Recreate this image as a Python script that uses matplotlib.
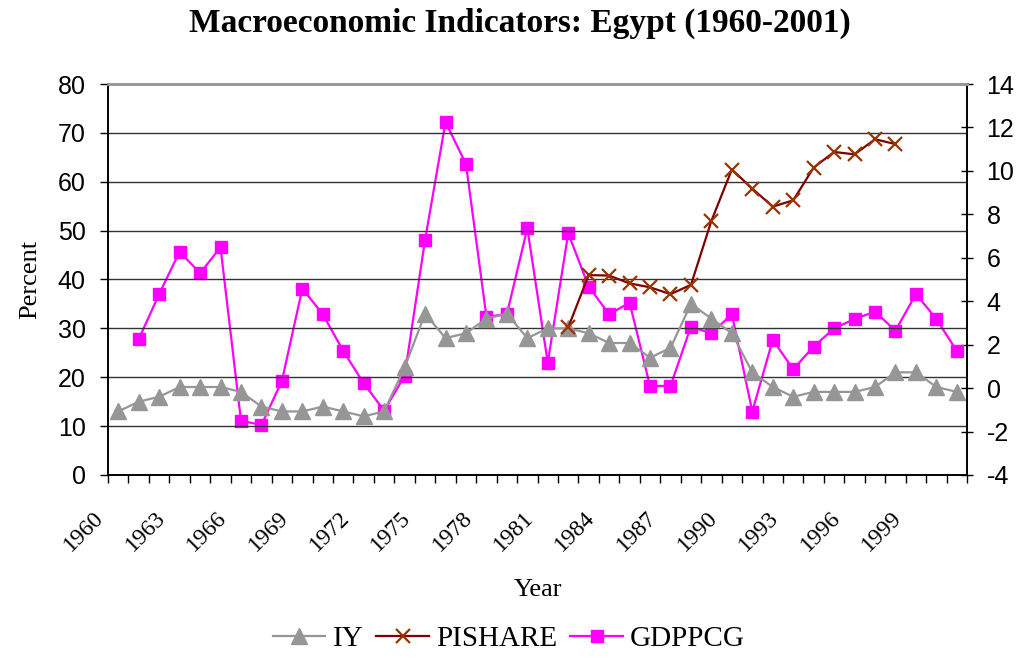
import matplotlib
matplotlib.use('Agg')
import matplotlib.pyplot as plt
import matplotlib.transforms as mtransforms
import numpy as np

SERIF = 'Liberation Serif'
SANS = 'Liberation Sans'
plt.rcParams['axes.unicode_minus'] = False

years = list(range(1960, 2002))

# investment / GDP (left axis)
iy = [13, 15, 16, 18, 18, 18, 17, 14, 13, 13, 14, 13, 12, 13,
      22, 33, 28, 29, 32, 33, 28, 30, 30, 29, 27, 27, 24, 26,
      35, 32, 29, 21, 18, 16, 17, 17, 17, 18, 21, 21, 18, 17]

# private investment share (left axis), 1982-1998
pishare_years = list(range(1982, 1999))
pishare = [30.2, 40.9, 40.8, 39.2, 38.4, 37.0, 38.9, 52.0, 62.5,
           58.6, 54.9, 56.2, 62.9, 66.1, 65.6, 68.7, 67.7]

# GDP per capita growth (right axis), 1961-2001
gdppcg_years = list(range(1961, 2002))
gdppcg = [2.25, 4.33, 6.28, 5.29, 6.48, -1.5, -1.7, 0.33, 4.58, 3.4,
          1.71, 0.22, -1.04, 0.56, 6.82, 12.24, 10.32, 3.29, 3.4, 7.36,
          1.17, 7.13, 4.67, 3.4, 3.93, 0.1, 0.1, 2.83, 2.52, 3.4,
          -1.08, 2.22, 0.87, 1.91, 2.75, 3.18, 3.52, 2.64, 4.33, 3.18, 1.71]

label_years = list(range(1960, 2000, 3))

COLOUR_IY = '#969696'
COLOUR_PI_LINE = '#800000'
COLOUR_PI_MARK = '#993300'
COLOUR_GDP = '#FF00FF'

fig = plt.figure(figsize=(10.24, 6.63), dpi=100)
ax = fig.add_axes([0.1055, 0.2836, 0.8389, 0.5897])
ax2 = ax.twinx()

idx = {y: i for i, y in enumerate(years)}
x_iy = [idx[y] for y in years]
x_pi = [idx[y] for y in pishare_years]
x_gdp = [idx[y] for y in gdppcg_years]

l1, = ax.plot(x_iy, iy, color=COLOUR_IY, lw=1.6, marker='^', ms=11,
              mfc=COLOUR_IY, mec=COLOUR_IY, label='IY', zorder=3)
l2, = ax.plot(x_pi, pishare, color=COLOUR_PI_LINE, lw=1.6, marker='x', ms=10,
              mew=1.6, mec=COLOUR_PI_MARK, label='PISHARE', zorder=4)
l3, = ax2.plot(x_gdp, gdppcg, color=COLOUR_GDP, lw=1.6, marker='s', ms=9,
               mfc=COLOUR_GDP, mec=COLOUR_GDP, label='GDPPCG', zorder=5)

ax.set_zorder(ax2.get_zorder() + 1)
ax.patch.set_visible(False)

ax.set_xlim(-0.5, len(years) - 0.5)
ax.set_ylim(0, 80)
ax2.set_ylim(-4, 14)

ax.set_yticks(range(0, 81, 10))
ax2.set_yticks(range(-4, 15, 2))
ax.grid(axis='y', color='#333333', lw=1.0)
for lab in ax.get_yticklabels() + ax2.get_yticklabels():
    lab.set_fontfamily(SANS)
    lab.set_fontsize(18)
ax.tick_params(axis='y', direction='out', length=6, width=1, pad=10)
ax2.tick_params(axis='y', direction='inout', length=8, width=1, pad=10)

# category ticks between years, labels every third year
ax.set_xticks(np.arange(-0.5, len(years), 1), minor=True)
ax.set_xticks([idx[y] for y in label_years])
ax.set_xticklabels([str(y) for y in label_years], rotation=45, ha='right',
                   fontfamily=SERIF, fontsize=17)
ax.tick_params(axis='x', which='major', length=0, pad=23)
ax.tick_params(axis='x', which='minor', direction='out', length=6, width=1)
offset = mtransforms.ScaledTranslation(-10 / 100, 0, fig.dpi_scale_trans)
for lab in ax.get_xticklabels():
    lab.set_transform(lab.get_transform() + offset)

for a in (ax, ax2):
    a.spines['top'].set_color('#999999')
    a.spines['top'].set_linewidth(2)
    a.spines['left'].set_linewidth(1.2)
    a.spines['right'].set_linewidth(1.2)
    a.spines['bottom'].set_linewidth(1.2)

ax.set_xlabel('Year', fontfamily=SERIF, fontsize=19, labelpad=17)
ax.set_ylabel('Percent', fontfamily=SERIF, fontsize=19, labelpad=12)

fig.suptitle('Macroeconomic Indicators: Egypt (1960-2001)', x=0.508, y=0.988,
             fontfamily=SERIF, fontweight='bold', fontsize=24)

fig.legend(handles=[l1, l2, l3], loc='center', bbox_to_anchor=(0.497, 0.036),
           ncol=3, frameon=False, prop={'family': SERIF, 'size': 21},
           handlelength=1.8, handletextpad=0.25, columnspacing=0.45)

fig.savefig('out.png', dpi=100)
